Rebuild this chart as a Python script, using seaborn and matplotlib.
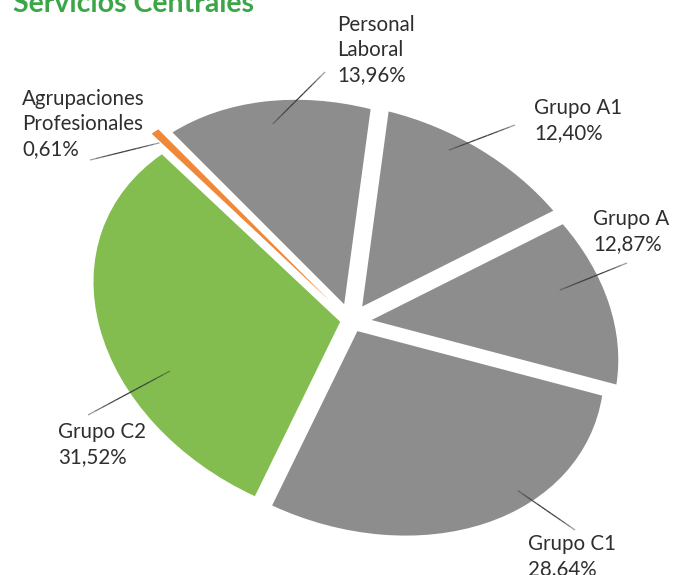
import matplotlib
matplotlib.use("Agg")
import numpy as np
import matplotlib.pyplot as plt
from matplotlib.transforms import Affine2D
import seaborn as sns

# ---- data ----
categories = ["Personal\nLaboral", "Grupo A1", "Grupo A", "Grupo C1", "Grupo C2",
              "Agrupaciones\nProfesionales"]
percentages = [13.96, 12.40, 12.87, 28.64, 31.52, 0.61]
pct_labels = ["13,96%", "12,40%", "12,87%", "28,64%", "31,52%", "0,61%"]
title = "Servicios Centrales"

# ---- style ----
sns.set_theme(style="white")
plt.rcParams['font.family'] = ['Lato', 'DejaVu Sans']

W, H = 673, 575
fig = plt.figure(figsize=(W / 100, H / 100), dpi=100)
ax = fig.add_axes([0, 0, 1, 1])

gray, green, orange = "#8c8d8c", "#83bc4f", "#f0883a"
colors = [gray, gray, gray, gray, green, orange]
explode = [0.085, 0.095, 0.087, 0.05, 0.045, 0.12]

wedges, _ = ax.pie(percentages, colors=colors, explode=explode, startangle=152,
                   counterclock=False, wedgeprops=dict(linewidth=0))

# tilted (perspective-like) ellipse: scale + rotate the unit pie into pixel space
cx, cy, rx, ry, rot = 351, 321.5, 255, 194, -23
aff = Affine2D().scale(rx, ry).rotate_deg(rot).translate(cx, H - cy)
for w in wedges:
    w.set_transform(aff + ax.transData)
ax.set_aspect('auto')
ax.set_xlim(0, W)
ax.set_ylim(0, H)
ax.axis('off')

# leader lines: start on wedge (angle offset, radius), end in pixels from top
lead_dang = [0, 6, 5.5, 13, 16, 1.5]
lead_r = [0.89, 0.92, 0.82, 0.93, 0.79, 0.95]
lead_end = [(325, 72), (515, 125), (627, 263), (575, 530), (88, 415), (90, 160)]
text_pos = [(337, 15), (534, 98), (593, 209), (528, 534), (58, 422), (22, 89)]

for w, da, r, (ex, ey), (tx, ty), cat, pct in zip(wedges, lead_dang, lead_r, lead_end,
                                                   text_pos, categories, pct_labels):
    mid = np.deg2rad((w.theta1 + w.theta2) / 2 + da)
    p0 = np.array(aff.transform((w.center[0] + r * np.cos(mid),
                                 w.center[1] + r * np.sin(mid))))
    p1 = np.array([ex, H - ey])
    # faded-end leader: short segments with alpha peaking in the middle
    n = 12
    for k in range(n):
        a = p0 + (p1 - p0) * k / n
        b = p0 + (p1 - p0) * (k + 1) / n
        t = (k + 0.5) / n
        alpha = 0.35 + 0.65 * np.sin(np.pi * t) ** 0.7
        ax.plot([a[0], b[0]], [a[1], b[1]], color='#3a3a3a', lw=0.9,
                alpha=alpha, solid_capstyle='butt')
    fig.text(tx / W, 1 - ty / H, f"{cat}\n{pct}", ha='left', va='top',
             fontsize=14.8, color='#2e2e2e', linespacing=1.33)

fig.text(13 / W, 1 - 12 / H, title, ha='left', va='baseline', fontsize=20.5,
         fontweight='bold', color='#3aa647')

fig.savefig("out.png", dpi=100)
